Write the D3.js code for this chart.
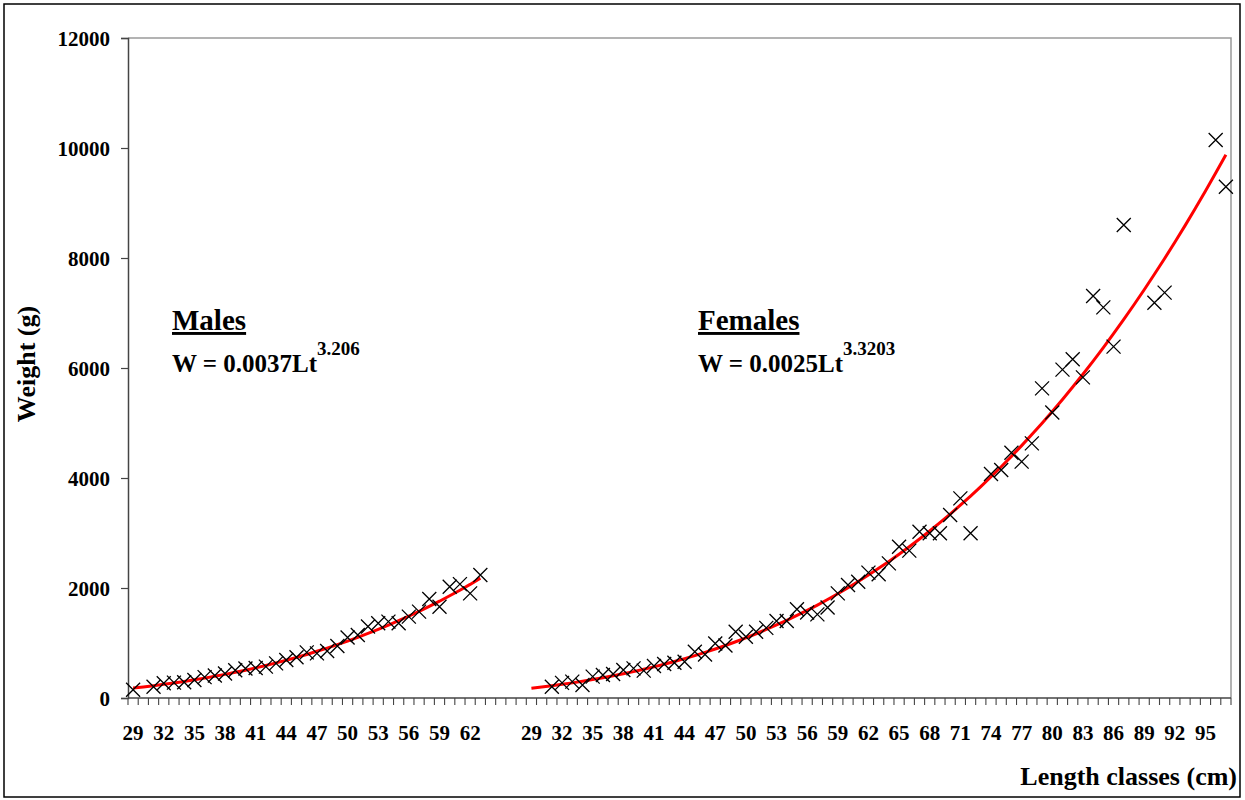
<!DOCTYPE html>
<html>
<head>
<meta charset="utf-8">
<script src="https://cdn.jsdelivr.net/npm/d3@7"></script>
<style>
    body { margin: 0; background: #fff; }
    svg text { font-family: "Liberation Serif", "Times New Roman", serif; font-weight: bold; fill: #000; }
</style>
</head>
<body>
<div id="chart"></div>
<script>
// length classes (cm) on the category axis
const maleLengths = [29, 30, 31, 32, 33, 34, 35, 36, 37, 38, 39, 40, 41, 42, 43, 44, 45, 46, 47, 48,
    49, 50, 51, 52, 53, 54, 55, 56, 57, 58, 59, 60, 61, 62, 63, 64];
const gapSlots = ["", "", ""];
const femaleLengths = [29, 30, 31, 32, 33, 34, 35, 36, 37, 38, 39, 40, 41, 42, 43, 44, 45, 46, 47, 48,
    49, 50, 51, 52, 53, 54, 55, 56, 57, 58, 59, 60, 61, 62, 63, 64, 65, 66, 67, 68,
    69, 70, 71, 72, 73, 74, 75, 76, 77, 78, 79, 80, 81, 82, 83, 84, 85, 86, 87, 88,
    89, 90, 91, 92, 93, 94, 95, 96, 97];

// observed mean weights (g)
const maleObsLength = [29, 31, 32, 33, 34, 35, 36, 37, 38, 39, 40, 41, 42, 43, 44, 45, 46, 47, 48,
    49, 50, 51, 52, 53, 54, 55, 56, 57, 58, 59, 60, 61, 62, 63];
const maleObsWeight = [150, 206, 267, 279, 285, 327, 380, 410, 445, 505, 535, 545, 570, 630, 690, 740, 830, 812, 855,
    945, 1100, 1145, 1300, 1358, 1388, 1358, 1479, 1570, 1800, 1660, 2024, 2070, 1903, 2236];

const femaleObsLength = [31, 32, 33, 34, 35, 36, 37, 38, 39, 40, 41, 42, 43, 44, 45, 46, 47, 48,
    49, 50, 51, 52, 53, 54, 55, 56, 57, 58, 59, 60, 61, 62, 63, 64, 65, 66, 67, 68,
    69, 70, 71, 72, 74, 75, 76, 77, 78, 79, 80, 81, 82, 83, 84, 85, 86, 87, 90, 91, 96, 97];
const femaleObsWeight = [206, 275, 297, 236, 388, 418, 436, 509, 539, 497, 582, 618, 642, 660, 842, 790, 990, 955,
    1206, 1115, 1206, 1275, 1400, 1400, 1615, 1555, 1520, 1645, 1903, 2055, 2115, 2280, 2250, 2448, 2751, 2679, 3024, 2994,
    2994, 3327, 3630, 2994, 4073, 4145, 4460, 4297, 4630, 5630, 5190, 5970, 6158, 5830, 7309, 7103, 6388, 8600, 7187, 7370,
    10145, 9296];

// fitted curves
const maleFitLength = [29, 30, 31, 32, 33, 34, 35, 36, 37, 38, 39, 40, 41, 42, 43, 44, 45, 46, 47, 48,
    49, 50, 51, 52, 53, 54, 55, 56, 57, 58, 59, 60, 61, 62, 63];
const maleFitWeight = [180, 201, 224, 248, 273, 301, 330, 361, 394, 430, 467, 506, 548, 592, 638, 687, 739, 792, 849, 908,
    970, 1035, 1103, 1174, 1248, 1325, 1405, 1489, 1576, 1666, 1760, 1860, 1960, 2065, 2180];
const femaleFitWeight = [179, 201, 224, 249, 275, 304, 335, 368, 403, 440, 480, 522, 566, 613, 663, 716, 771, 830, 891, 955,
    1023, 1094, 1168, 1246, 1328, 1413, 1501, 1594, 1690, 1791, 1896, 2004, 2118, 2235, 2357, 2483, 2615, 2750, 2891, 3037,
    3188, 3344, 3505, 3672, 3844, 4022, 4205, 4394, 4589, 4790, 4997, 5210, 5429, 5655, 5887, 6126, 6372, 6624, 6883, 7150,
    7423, 7704, 7991, 8286, 8589, 8900, 9218, 9545, 9879];

const yTicks = [0, 2000, 4000, 6000, 8000, 10000, 12000];

const W = 1245, H = 800;
const margin = {top: 38, right: 14, bottom: 102, left: 128};
const width = W - margin.left - margin.right;
const height = H - margin.top - margin.bottom;

const keys = [].concat(
    maleLengths.map(d => "m" + d),
    gapSlots.map((d, i) => "g" + i),
    femaleLengths.map(d => "f" + d)
);
const labels = [].concat(maleLengths.map(String), gapSlots, femaleLengths.map(String));

const svg = d3.select("#chart").append("svg")
    .attr("width", W)
    .attr("height", H);

svg.append("rect")
    .attr("x", 4).attr("y", 4)
    .attr("width", 1236).attr("height", 793)
    .attr("fill", "none").attr("stroke", "#000").attr("stroke-width", 1.5);

const g = svg.append("g")
    .attr("transform", "translate(" + margin.left + "," + margin.top + ")");

const x = d3.scaleBand().domain(keys).range([0, width]).padding(0);
const y = d3.scaleLinear().domain([0, 12000]).range([height, 0]);
const cx = k => x(k) + x.bandwidth() / 2;

// plot frame (top and right in light grey)
g.append("path")
    .attr("d", "M0,0H" + width + "V" + height)
    .attr("fill", "none").attr("stroke", "#9a9a9a").attr("stroke-width", 1.5);

// y axis
const yAxis = g.append("g")
    .call(d3.axisLeft(y).tickValues(yTicks).tickFormat(d3.format("d")).tickSize(7).tickPadding(11));
yAxis.select(".domain").attr("stroke", "#444").attr("stroke-width", 1.5);
yAxis.selectAll(".tick line").attr("stroke", "#444").attr("stroke-width", 1.2);
yAxis.selectAll(".tick text").style("font-size", "21px").attr("dy", "0.34em");

// x axis: ticks between categories, labels every third category
const xAxis = g.append("g").attr("transform", "translate(0," + height + ")");
xAxis.selectAll("line.cat-tick")
    .data(keys.concat(["end"]))
    .enter().append("line")
    .attr("class", "cat-tick")
    .attr("x1", (d, i) => i < keys.length ? x(d) : width)
    .attr("x2", (d, i) => i < keys.length ? x(d) : width)
    .attr("y1", 0).attr("y2", 7)
    .attr("stroke", "#444").attr("stroke-width", 1.1);
xAxis.append("line")
    .attr("x1", 0).attr("x2", width)
    .attr("stroke", "#444").attr("stroke-width", 1.5);
xAxis.selectAll("text.cat-label")
    .data(keys.filter((d, i) => i % 3 === 0 && labels[i] !== ""))
    .enter().append("text")
    .attr("class", "cat-label")
    .attr("x", cx)
    .attr("y", 42)
    .attr("text-anchor", "middle")
    .style("font-size", "21px")
    .text(d => labels[keys.indexOf(d)]);

// axis titles
svg.append("text")
    .attr("transform", "translate(35,364) rotate(-90)")
    .attr("text-anchor", "middle")
    .style("font-size", "26px")
    .text("Weight (g)");
svg.append("text")
    .attr("x", 1237).attr("y", 785)
    .attr("text-anchor", "end")
    .style("font-size", "26px")
    .text("Length classes (cm)");

// fitted curves
const line = d3.line().x(d => cx(d[0])).y(d => y(d[1]));
const malesFit = maleFitLength.map((d, i) => ["m" + d, maleFitWeight[i]]);
const femalesFit = femaleLengths.map((d, i) => ["f" + d, femaleFitWeight[i]]);
g.selectAll("path.fit")
    .data([malesFit, femalesFit])
    .enter().append("path")
    .attr("class", "fit")
    .attr("d", line)
    .attr("fill", "none")
    .attr("stroke", "#ff0000")
    .attr("stroke-width", 3)
    .attr("stroke-linejoin", "round");

// observed points as crosses
const points = [].concat(
    maleObsLength.map((d, i) => ["m" + d, maleObsWeight[i]]),
    femaleObsLength.map((d, i) => ["f" + d, femaleObsWeight[i]])
);
const s = 7;
g.selectAll("path.obs")
    .data(points)
    .enter().append("path")
    .attr("class", "obs")
    .attr("transform", d => "translate(" + cx(d[0]) + "," + y(d[1]) + ")")
    .attr("d", "M" + -s + "," + -s + "L" + s + "," + s + "M" + s + "," + -s + "L" + -s + "," + s)
    .attr("stroke", "#000")
    .attr("stroke-width", 1.3);

// equations
const notes = [
    {x: 172, name: "Males", coef: "W = 0.0037Lt", exp: "3.206"},
    {x: 698, name: "Females", coef: "W = 0.0025Lt", exp: "3.3203"}
];
notes.forEach(n => {
    svg.append("text")
        .attr("x", n.x).attr("y", 330)
        .style("font-size", "29px")
        .attr("text-decoration", "underline")
        .text(n.name);
    const eq = svg.append("text")
        .attr("x", n.x).attr("y", 372)
        .style("font-size", "25px");
    eq.append("tspan").text(n.coef);
    eq.append("tspan").attr("dy", -17).style("font-size", "19px").text(n.exp);
});
</script>
</body>
</html>
